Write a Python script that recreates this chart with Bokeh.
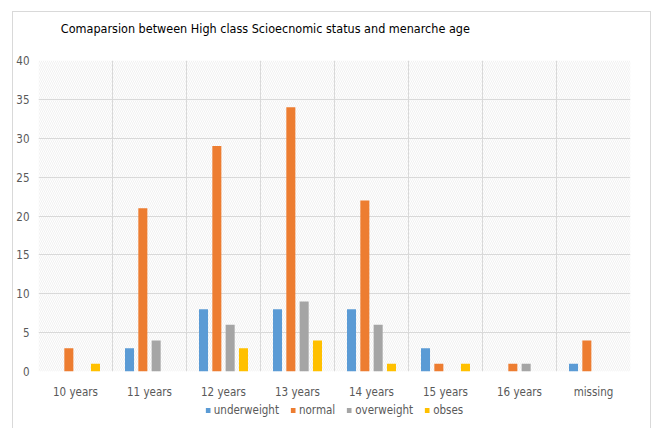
from bokeh.plotting import figure
from bokeh.layouts import column
from bokeh.models import Range1d, FixedTicker, Legend, LegendItem, BoxAnnotation, ColumnDataSource, Grid, Label
from bokeh.embed import file_html
from bokeh.resources import INLINE

categories = ["10 years", "11 years", "12 years", "13 years", "14 years", "15 years", "16 years", "missing"]
underweight = [0, 3, 8, 8, 8, 3, 0, 1]
normal = [3, 21, 29, 34, 22, 1, 1, 4]
overweight = [0, 4, 6, 9, 6, 0, 1, 0]
obses = [1, 0, 3, 4, 1, 1, 0, 0]
series_names = ["underweight", "normal", "overweight", "obses"]
series_values = [underweight, normal, overweight, obses]
colors = ["#5B9BD5", "#ED7D31", "#A5A5A5", "#FFC000"]
y_ticks = [0, 5, 10, 15, 20, 25, 30, 35, 40]
title_text = "Comaparsion between High class Scioecnomic status and menarche age"

FONT = "DejaVu Sans Condensed, Liberation Sans, sans-serif"
W = 637


def strip(h):
    f = figure(width=W, height=h, output_backend="svg", toolbar_location=None,
               x_range=Range1d(0, W), y_range=Range1d(0, h),
               x_axis_type=None, y_axis_type=None,
               min_border_left=0, min_border_right=0, min_border_top=0, min_border_bottom=0)
    f.outline_line_color = None
    f.xgrid.visible = False
    f.ygrid.visible = False
    return f


# title strip
tf = strip(36)
tf.add_layout(Label(x=24, y=20, text=title_text, text_font=FONT, text_font_size="12.5px",
                    text_color="#000000", text_baseline="middle", text_align="left"))

# main chart
p = figure(width=W, height=353, output_backend="svg", toolbar_location=None,
           x_range=Range1d(0, len(categories)), y_range=Range1d(0, 40),
           min_border_left=24, min_border_right=20, min_border_top=12, min_border_bottom=29)
p.outline_line_color = None
p.background_fill_color = "white"

p.add_layout(BoxAnnotation(fill_color="white", fill_alpha=0.0, line_color=None,
                           hatch_pattern="left_diagonal_line", hatch_color="#d9d9d9",
                           hatch_alpha=0.6, hatch_scale=4, hatch_weight=0.6, level="underlay"))

centers = [i + 0.5 for i in range(len(categories))]
offsets = [-0.27, -0.09, 0.09, 0.27]
for name, vals, col, off in zip(series_names, series_values, colors, offsets):
    src = ColumnDataSource(dict(x=[c + off for c in centers], top=vals))
    p.vbar(x="x", top="top", width=0.122, source=src, fill_color=col, line_color=None)

p.xaxis.ticker = FixedTicker(ticks=centers)
p.xaxis.major_label_overrides = {c: lab for c, lab in zip(centers, categories)}
p.xaxis.major_label_standoff = 13
p.yaxis.ticker = FixedTicker(ticks=y_ticks)
p.yaxis.major_label_standoff = 9
for ax in (p.xaxis, p.yaxis):
    ax.axis_line_color = None
    ax.major_tick_line_color = None
    ax.minor_tick_line_color = None
    ax.major_tick_out = 0
    ax.major_tick_in = 0
    ax.minor_tick_out = 0
    ax.major_label_text_font = FONT
    ax.major_label_text_font_size = "11.5px"
    ax.major_label_text_color = "#595959"

p.xgrid.visible = False
p.ygrid.ticker = FixedTicker(ticks=y_ticks)
p.ygrid.grid_line_color = "#d9d9d9"
p.add_layout(Grid(dimension=0, ticker=FixedTicker(ticks=list(range(len(categories) + 1))),
                  grid_line_color="#d9d9d9"))

# legend strip (legend swatches only; no visible marks)
lf = strip(27)
items = []
for name, col in zip(series_names, colors):
    r = lf.vbar(x=[-5000], top=[0], width=1, fill_color=col, line_color=None)
    items.append(LegendItem(label=name, renderers=[r]))
legend = Legend(items=items, orientation="horizontal", location="top", nrows=1,
                padding=0, margin=2, spacing=11, label_standoff=3,
                glyph_width=6, glyph_height=6, label_height=12,
                label_text_font=FONT, label_text_font_size="11.5px",
                label_text_color="#595959", border_line_color=None,
                background_fill_alpha=0)
lf.add_layout(legend, "center")

layout = column(tf, p, lf, spacing=0, margin=(11, 0, 0, 12),
                styles={"border-top": "1px solid #d9d9d9", "border-left": "1px solid #d9d9d9",
                        "border-right": "1px solid #d9d9d9"})

open("out.html", "w").write(file_html(layout, INLINE))
